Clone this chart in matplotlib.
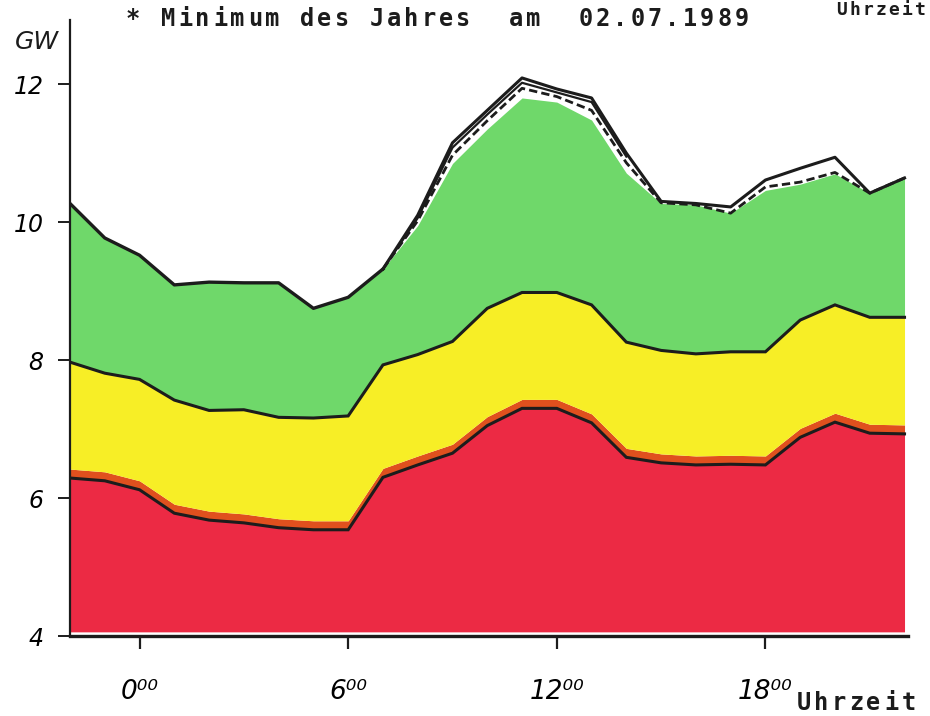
import numpy as np
import matplotlib
matplotlib.use("Agg")
import matplotlib.pyplot as plt

# hourly load curve, GW
hours = np.arange(-2, 23)

red_top = [6.29, 6.25, 6.12, 5.78, 5.68, 5.64, 5.57, 5.54, 5.54, 6.30, 6.48, 6.65, 7.05,
           7.30, 7.30, 7.09, 6.59, 6.51, 6.48, 6.49, 6.48, 6.88, 7.10, 6.94, 6.93]
yellow_top = [7.97, 7.81, 7.72, 7.42, 7.27, 7.28, 7.17, 7.16, 7.19, 7.93, 8.08, 8.27, 8.75,
              8.98, 8.98, 8.80, 8.26, 8.14, 8.09, 8.12, 8.12, 8.58, 8.80, 8.62, 8.62]
green_top = [10.27, 9.77, 9.52, 9.09, 9.13, 9.12, 9.12, 8.75, 8.91, 9.32, 9.95, 10.85, 11.35,
             11.80, 11.74, 11.48, 10.71, 10.27, 10.25, 10.13, 10.46, 10.55, 10.70, 10.42, 10.64]
total = [10.27, 9.77, 9.52, 9.09, 9.13, 9.12, 9.12, 8.75, 8.91, 9.32, 10.10, 11.15, 11.62,
         12.09, 11.93, 11.80, 11.00, 10.30, 10.27, 10.22, 10.61, 10.78, 10.94, 10.42, 10.64]
inner = [10.27, 9.77, 9.52, 9.09, 9.13, 9.12, 9.12, 8.75, 8.91, 9.32, 10.06, 11.08, 11.56,
         12.02, 11.88, 11.74, 10.95, 10.30, 10.27, 10.22, 10.61, 10.78, 10.94, 10.42, 10.64]
dashed = [10.27, 9.77, 9.52, 9.09, 9.13, 9.12, 9.12, 8.75, 8.91, 9.32, 10.02, 10.97, 11.47,
          11.94, 11.82, 11.62, 10.86, 10.28, 10.25, 10.13, 10.51, 10.58, 10.72, 10.42, 10.64]
BAND = 0.13  # orange edge on top of the red area

xticks = [0, 6, 12, 18]
xticklabels = ["0\u2070\u2070", "6\u2070\u2070", "12\u2070\u2070", "18\u2070\u2070"]
yticks = [4, 6, 8, 10, 12]

RED = "#ec2a44"
ORANGE = "#e0501e"
YELLOW = "#f7ee26"
GREEN = "#6fd86a"
INK = "#1c1c1c"

red_top = np.array(red_top)
band_top = red_top + BAND

fig = plt.figure(figsize=(9.3, 7.16), dpi=100)
ax = fig.add_axes([70 / 930, 80 / 716, 838 / 930, 616 / 716])

ax.fill_between(hours, 4.06, red_top, color=RED, lw=0)
ax.fill_between(hours, red_top, band_top, color=ORANGE, lw=0)
ax.fill_between(hours, band_top, yellow_top, color=YELLOW, lw=0)
ax.fill_between(hours, yellow_top, green_top, color=GREEN, lw=0)

ax.plot(hours, red_top, color=INK, lw=2.2, solid_joinstyle="miter")
ax.plot(hours, yellow_top, color=INK, lw=2.2, solid_joinstyle="miter")
ax.plot(hours[:10], green_top[:10], color=INK, lw=2.4)
ax.plot(hours[9:], total[9:], color=INK, lw=2.2)
ax.plot(hours[9:17], inner[9:17], color=INK, lw=1.6)
ax.plot(hours[9:], dashed[9:], color=INK, lw=2.0, ls=(0, (3, 1.5)))

ax.set_xlim(-2, 22.1)
ax.set_ylim(4, 12.93)

for s in ["top", "right"]:
    ax.spines[s].set_visible(False)
ax.spines["left"].set_linewidth(1.6)
ax.spines["bottom"].set_linewidth(2.4)
ax.spines["left"].set_color(INK)
ax.spines["bottom"].set_color(INK)

ax.set_yticks(yticks)
ax.set_yticklabels([str(t) for t in yticks], fontsize=17, style="italic",
                   family="DejaVu Sans")
ax.set_xticks(xticks)
ax.set_xticklabels(xticklabels, fontsize=19, style="italic", family="DejaVu Sans")
ax.tick_params(axis="y", length=9, width=1.4, pad=10, color=INK)
ax.tick_params(axis="x", length=9, width=1.6, pad=22, color=INK)

fig.text(15 / 930, 1 - 42 / 716, "GW", fontsize=18, style="italic",
         family="DejaVu Sans", va="center", color=INK)

# dot matrix printer text, one char per cell
title = "* Minimum des Jahres  am  02.07.1989"
for i, ch in enumerate(title):
    fig.text((133 + i * 17.4) / 930, 1 - 19 / 716, ch, fontsize=17, weight="bold",
             family="DejaVu Sans Mono", ha="center", va="center", color=INK)
for i, ch in enumerate("Uhrzeit"):
    fig.text((804 + i * 17.4) / 930, 1 - 703 / 716, ch, fontsize=17, weight="bold",
             family="DejaVu Sans Mono", ha="center", va="center", color=INK)
    fig.text((842 + i * 13) / 930, 1 - 1 / 716, ch, fontsize=13, weight="bold",
             family="DejaVu Sans Mono", ha="center", va="top", color=INK)

fig.savefig("out.png", dpi=100)
